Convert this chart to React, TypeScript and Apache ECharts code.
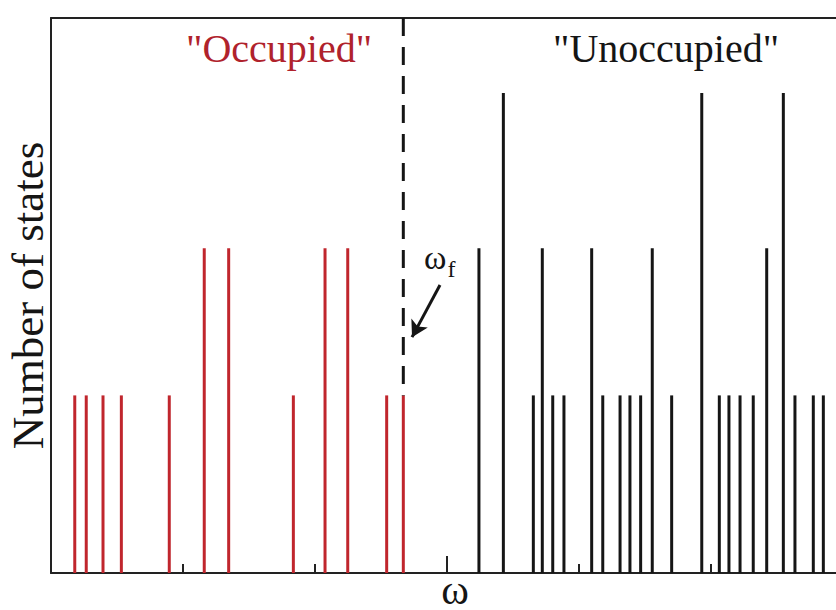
import React, { useEffect, useRef } from "react";
import * as echarts from "echarts";

// Energy levels (in units of the minor tick spacing) and their degeneracy heights
const occupiedLevels = [0.18, 0.267, 0.394, 0.533, 0.896, 1.161, 1.346, 1.836, 2.076, 2.248, 2.543, 2.669];
const occupiedCounts = [32, 32, 32, 32, 32, 58.5, 58.5, 32, 58.5, 58.5, 32, 32];

const unoccupiedLevels = [
  3.242, 3.427, 3.654, 3.722, 3.801, 3.886, 4.096, 4.18, 4.311, 4.386, 4.467, 4.555,
  4.702, 4.93, 5.063, 5.136, 5.22, 5.32, 5.422, 5.548, 5.636, 5.775, 5.851,
];
const unoccupiedCounts = [
  58.5, 86.5, 32, 58.5, 32, 32, 58.5, 32, 32, 32, 32, 58.5,
  32, 86.5, 32, 32, 32, 32, 58.5, 86.5, 32, 32, 32,
];

// Fermi level marker and its annotation arrow
const fermiLevel = 2.669;
const fermiLineRange = [100, 32];
const arrowStart = [2.947, 51.9];
const arrowEnd = [2.735, 42.5];

const SERIF = "Liberation Serif, Times New Roman, Tinos, serif";
const RED = "#c0262d";
const INK = "#151515";

function stickSeries(name: string, xs: number[], ys: number[], color: string) {
  return {
    name,
    type: "custom",
    clip: false,
    encode: { x: 0, y: 1 },
    data: xs.map((x, i) => [x, ys[i]]),
    renderItem: (_params: any, api: any) => {
      const base = api.coord([api.value(0), 0]);
      const top = api.coord([api.value(0), api.value(1)]);
      return {
        type: "line",
        shape: { x1: base[0], y1: base[1], x2: top[0], y2: top[1] },
        style: { stroke: color, lineWidth: 3, lineCap: "butt" },
      };
    },
  };
}

export default function App() {
  const ref = useRef<HTMLDivElement>(null);

  useEffect(() => {
    if (!ref.current) return;
    const chart = echarts.init(ref.current, undefined, { renderer: "svg" });
    chart.setOption({
      animation: false,
      backgroundColor: "#ffffff",
      textStyle: { fontFamily: SERIF },
      grid: {
        left: 51,
        top: 18,
        width: 792,
        height: 555,
        outerBoundsMode: "none",
        containLabel: false,
        show: false,
      },
      xAxis: [
        {
          type: "value",
          min: 0,
          max: 6,
          interval: 3,
          name: "ω",
          nameLocation: "middle",
          nameGap: 2,
          nameTextStyle: {
            fontFamily: SERIF,
            fontSize: 42,
            lineHeight: 30,
            color: INK,
            padding: [0, 0, 0, 16],
          },
          axisLine: { show: true, onZero: false, lineStyle: { color: "#222", width: 2 } },
          axisTick: { show: true, inside: true, length: 17, lineStyle: { color: "#222", width: 2 } },
          minorTick: { show: true, splitNumber: 3, length: 9, lineStyle: { color: "#222", width: 2 } },
          axisLabel: { show: false },
          splitLine: { show: false },
          minorSplitLine: { show: false },
        },
        {
          // plain frame line along the top edge
          type: "value",
          position: "top",
          min: 0,
          max: 6,
          axisLine: { show: true, onZero: false, lineStyle: { color: "#222", width: 2 } },
          axisTick: { show: false },
          axisLabel: { show: false },
          splitLine: { show: false },
        },
      ],
      yAxis: {
        type: "value",
        min: 0,
        max: 100,
        name: "Number of states",
        nameLocation: "middle",
        nameGap: 1,
        nameTextStyle: { fontFamily: SERIF, fontSize: 45, color: INK },
        axisLine: { show: true, lineStyle: { color: "#222", width: 2 } },
        axisTick: { show: false },
        axisLabel: { show: false },
        splitLine: { show: false },
      },
      series: [
        {
          name: "Fermi level",
          type: "line",
          data: [
            [fermiLevel, fermiLineRange[0]],
            [fermiLevel, fermiLineRange[1]],
          ],
          showSymbol: false,
          symbol: "none",
          lineStyle: { color: INK, width: 3, type: [18, 11] },
          markLine: {
            silent: true,
            symbol: ["none", "arrow"],
            symbolSize: [14, 16],
            label: { show: false },
            lineStyle: { color: INK, width: 3, type: "solid" },
            data: [[{ coord: arrowStart }, { coord: arrowEnd }]],
          },
        },
        stickSeries("Occupied", occupiedLevels, occupiedCounts, RED),
        stickSeries("Unoccupied", unoccupiedLevels, unoccupiedCounts, INK),
      ],
      graphic: [
        {
          type: "text",
          x: 279,
          y: 28,
          style: {
            text: '"Occupied"',
            fill: "#b0222c",
            fontFamily: SERIF,
            fontSize: 40,
            textAlign: "center",
            textVerticalAlign: "top",
          },
        },
        {
          type: "text",
          x: 666,
          y: 28,
          style: {
            text: '"Unoccupied"',
            fill: INK,
            fontFamily: SERIF,
            fontSize: 40,
            textAlign: "center",
            textVerticalAlign: "top",
          },
        },
        {
          type: "text",
          x: 424,
          y: 233,
          style: {
            text: "{w|ω}{f|f}",
            textVerticalAlign: "top",
            rich: {
              w: { fontFamily: SERIF, fontSize: 34, fill: INK, color: INK },
              f: { fontFamily: SERIF, fontSize: 24, fill: INK, color: INK, padding: [24, 0, 0, 1] },
            },
          },
        },
      ],
    });
    return () => chart.dispose();
  }, []);

  return (
    <div style={{ position: "absolute", left: 0, top: 0, width: 836, height: 610, overflow: "hidden", background: "#fff" }}>
      <div ref={ref} style={{ width: 836, height: 610 }} />
    </div>
  );
}
